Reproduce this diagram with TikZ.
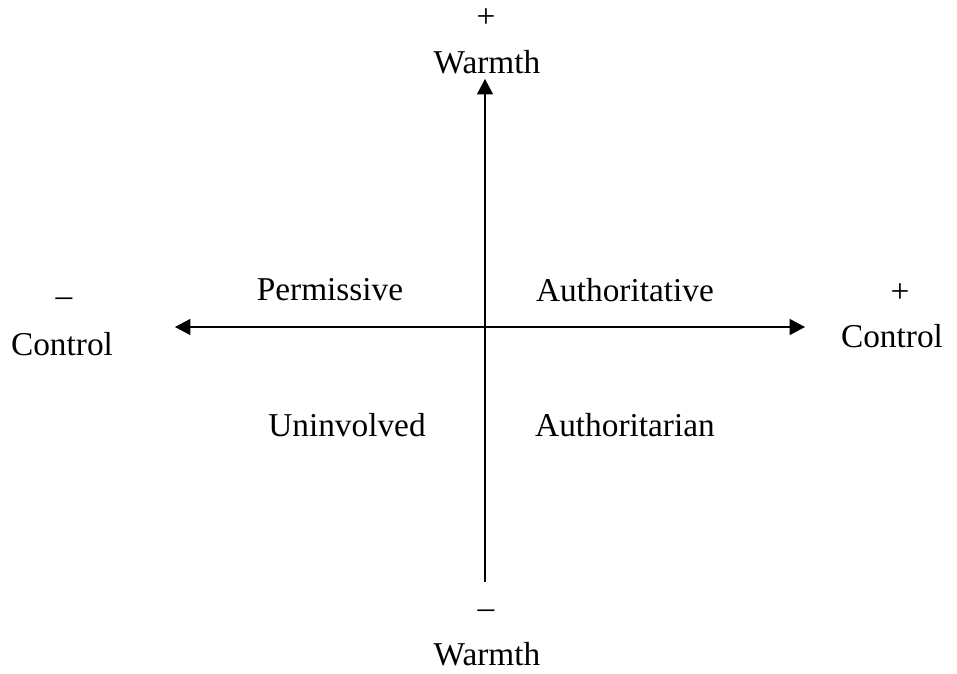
\documentclass[tikz,border=0pt]{standalone}
\usepackage{fontspec}
\setmainfont{Liberation Serif}
\usetikzlibrary{arrows.meta, positioning}

\begin{document}
\begin{tikzpicture}[
    x=0.75pt, y=-0.75pt,
    lbl/.style={font=\fontsize{25}{29}\selectfont, inner sep=0pt, align=center},
    tip/.tip={Triangle[length=11.5pt, width=12pt]},
    axis/.style={line width=0.9pt, -tip},
    biaxis/.style={line width=0.9pt, tip-tip}
]
\useasboundingbox (0,0) rectangle (957,674);

% axis ends
\coordinate (origin) at (485,327);
\coordinate (north) at (485,79);
\coordinate (south) at (485,582);
\coordinate (west) at (175,327);
\coordinate (east) at (805,327);

% axis labels
\node (wplus) [lbl] at (486,18) {+};
\node (wtop) [lbl] at (487,62) {Warmth};
\node (wminus) [lbl] at (486,614) {–};
\node (wbot) [lbl] at (487,654) {Warmth};
\node (cminus) [lbl] at (64,302) {–};
\node (cleft) [lbl] at (62,344) {Control};
\node (cplus) [lbl] at (900,293) {+};
\node (cright) [lbl] at (892,336) {Control};

% quadrants
\node (permissive) [lbl] at (330,290) {Permissive};
\node (authoritative) [lbl] at (625,290) {Authoritative};
\node (uninvolved) [lbl] at (347,425) {Uninvolved};
\node (authoritarian) [lbl] at (625,425) {Authoritarian};

\draw [axis] (south) -- (north);
\draw [biaxis] (west) -- (east);

\end{tikzpicture}
\end{document}
